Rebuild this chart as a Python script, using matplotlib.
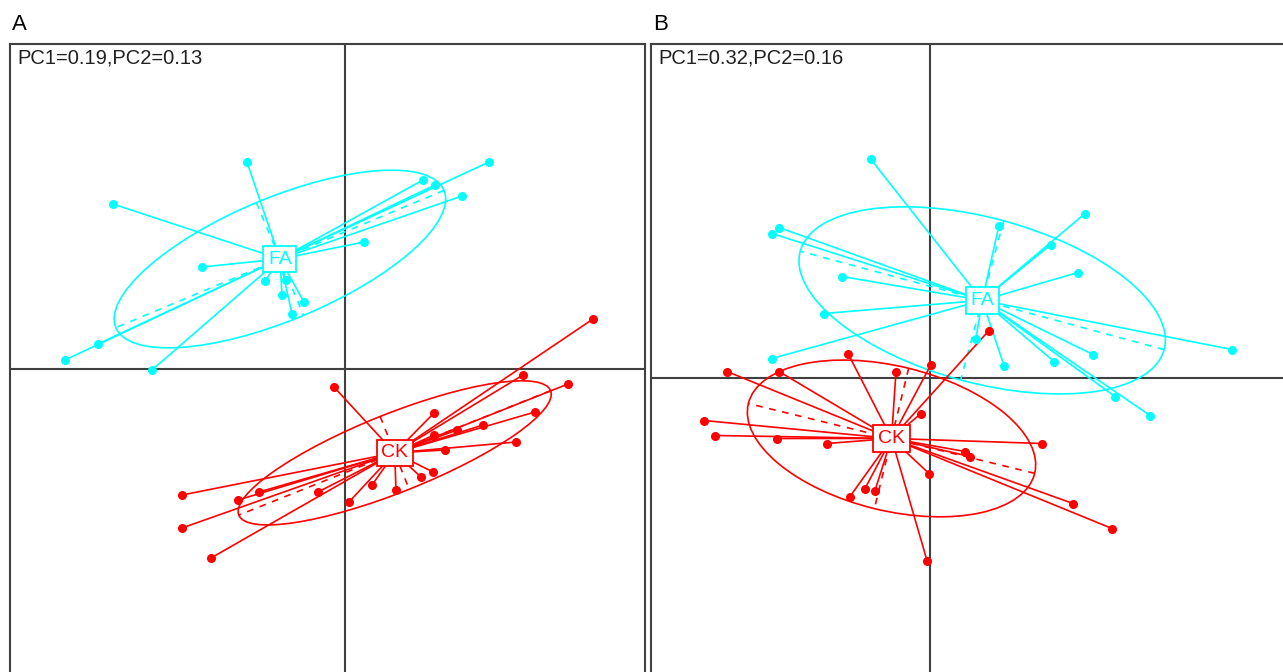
import numpy as np
import matplotlib as mpl
mpl.use('agg')
import matplotlib.pyplot as plt
from matplotlib.patches import Ellipse

plt.rcParams['font.family'] = ['Liberation Sans', 'DejaVu Sans']

## group colours
fa_col = '#00FFFF'
ck_col = '#FF0000'

## panel A scores (PC1, PC2)
a_fa_x = [-0.98, -2.32, 1.44, 0.78, 0.90, 1.17, 0.19, -1.43, -0.80, -0.59, -0.63, -0.41, -0.53, -2.47, -2.80, -1.93]
a_fa_y = [2.07, 1.65, 2.07, 1.89, 1.84, 1.73, 1.27, 1.02, 0.88, 0.89, 0.74, 0.67, 0.55, 0.25, 0.09, -0.01]
a_ck_x = [-0.11, 1.78, 2.23, 0.89, 1.90, 1.38, 1.12, 0.89, 1.71, 1.00, 0.88, 0.76, 0.27, 0.51, 0.04, -0.27,
          -0.86, -1.07, -1.63, -1.63, -1.34, 2.48]
a_ck_y = [-0.18, -0.06, -0.15, -0.44, -0.43, -0.56, -0.61, -0.66, -0.73, -0.81, -1.03, -1.08, -1.16, -1.21,
          -1.33, -1.23, -1.23, -1.31, -1.26, -1.59, -1.89, 0.50]

## panel B scores
b_fa_x = [-0.59, -1.51, -1.58, 1.55, 0.69, 1.21, 1.48, -0.88, -1.06, -1.58, 0.46, 0.74, 1.24, 1.63, 3.02, 1.85, 2.20]
b_fa_y = [2.18, 1.50, 1.44, 1.64, 1.52, 1.33, 1.05, 1.01, 0.64, 0.19, 0.39, 0.12, 0.16, 0.23, 0.28, -0.19, -0.38]
b_ck_x = [-0.82, -2.03, -1.51, -0.34, 0.01, 0.59, -0.09, -2.26, -2.15, -1.53, -1.03, 1.12, 0.35, 0.40, -0.01,
          -0.65, -0.55, -0.80, 1.43, 1.82, -0.03]
b_ck_y = [0.24, 0.06, 0.06, 0.06, 0.13, 0.47, -0.36, -0.43, -0.58, -0.61, -0.66, -0.66, -0.74, -0.79, -0.96,
          -1.11, -1.13, -1.19, -1.26, -1.51, -1.83]

panel_labels = ['A', 'B']
pc_texts = ['PC1=0.19,PC2=0.13', 'PC1=0.32,PC2=0.16']
group_names = ['FA', 'CK']


def draw_class(ax, x, y, name, col, cellipse=1.3):
    x = np.asarray(x)
    y = np.asarray(y)
    mx, my = x.mean(), y.mean()
    # stars from the class centre
    for xi, yi in zip(x, y):
        ax.plot([mx, xi], [my, yi], color=col, lw=1.2, zorder=2)
    ax.plot(x, y, 'o', color=col, ms=5.5, mec=col, zorder=3)
    # ellipse from covariance
    cov = np.cov(np.vstack([x, y]), bias=True)
    vals, vecs = np.linalg.eigh(cov)
    order = np.argsort(vals)[::-1]
    vals, vecs = vals[order], vecs[:, order]
    semi = cellipse * np.sqrt(vals)
    ang = np.degrees(np.arctan2(vecs[1, 0], vecs[0, 0]))
    ax.add_patch(Ellipse((mx, my), 2 * semi[0], 2 * semi[1], angle=ang,
                         fill=False, ec=col, lw=1.2, zorder=2))
    ## ellipse axes, dashed
    for k in range(2):
        v = vecs[:, k] * semi[k]
        ax.plot([mx - v[0], mx + v[0]], [my - v[1], my + v[1]], color=col,
                lw=1.2, ls=(0, (4, 4)), zorder=2)
    ax.text(mx, my, name, color=col, fontsize=14, ha='center', va='center', zorder=5,
            bbox=dict(boxstyle='square,pad=0.24', fc='white', ec=col, lw=1.3))


fig = plt.figure(figsize=(12.83, 6.72), dpi=100)
W, H = 1283.0, 672.0

## panel boxes in pixels: left, right, top, bottom, origin x, origin y
boxes = [(10, 645, 44, 699, 345, 369), (651, 1290, 44, 699, 930, 377.5)]
groups = [[(a_fa_x, a_fa_y), (a_ck_x, a_ck_y)], [(b_fa_x, b_fa_y), (b_ck_x, b_ck_y)]]

for i, (l, r, t, b, ox, oy) in enumerate(boxes):
    ax = fig.add_axes([l / W, 1 - b / H, (r - l) / W, (b - t) / H])
    ax.set_xlim((l - ox) / 100, (r - ox) / 100)
    ax.set_ylim((oy - b) / 100, (oy - t) / 100)
    ax.set_xticks([])
    ax.set_yticks([])
    for sp in ax.spines.values():
        sp.set_color('#404040')
        sp.set_linewidth(1.5)
    ax.axhline(0, color='#404040', lw=1.5, zorder=1)
    ax.axvline(0, color='#404040', lw=1.5, zorder=1)
    for (gx, gy), name, col in zip(groups[i], group_names, [fa_col, ck_col]):
        draw_class(ax, gx, gy, name, col)
    ax.text(0.011, 0.993, pc_texts[i], transform=ax.transAxes, fontsize=14.5,
            ha='left', va='top', color='#202020')
    fig.text((l + 2) / W, 1 - 30 / H, panel_labels[i], fontsize=16, ha='left',
             va='baseline', color='black')

fig.savefig('out.png', dpi=100)
